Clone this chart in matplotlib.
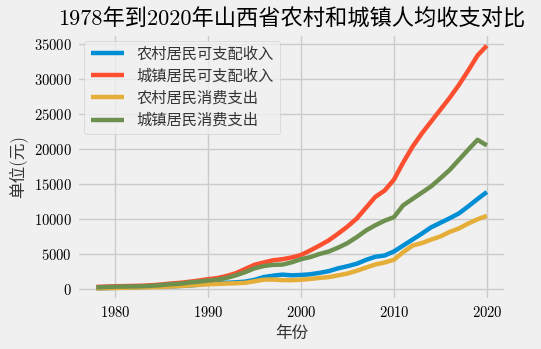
import matplotlib
matplotlib.use("Agg")
import matplotlib.pyplot as plt
import numpy as np

years = np.arange(1978, 2021)

# 农村居民可支配收入
rural_income = [100, 130, 160, 200, 240, 290, 330, 360, 380, 430,
                500, 600, 800, 830, 880, 950, 1050, 1300, 1700, 1900,
                2050, 1950, 2000, 2100, 2300, 2550, 2950, 3250, 3600, 4150,
                4600, 4780, 5350, 6200, 7050, 7900, 8800, 9450, 10100, 10800,
                11800, 12850, 13850]
# 城镇居民可支配收入
urban_income = [300, 340, 390, 410, 440, 470, 540, 640, 780, 880,
                1030, 1200, 1400, 1550, 1850, 2250, 2850, 3450, 3780, 4100,
                4250, 4500, 4850, 5500, 6200, 6950, 7900, 8900, 10050, 11600,
                13150, 14050, 15600, 18050, 20300, 22200, 23900, 25600, 27300, 29150,
                31200, 33350, 34750]
# 农村居民消费支出
rural_spend = [90, 110, 140, 170, 200, 230, 260, 300, 350, 420,
               500, 580, 680, 720, 780, 820, 880, 1100, 1330, 1350,
               1270, 1250, 1330, 1430, 1580, 1700, 1950, 2200, 2600, 3050,
               3500, 3780, 4170, 5250, 6200, 6550, 7050, 7500, 8150, 8650,
               9350, 9950, 10450]
# 城镇居民消费支出
urban_spend = [240, 280, 330, 350, 370, 400, 460, 560, 680, 760,
               930, 1050, 1200, 1330, 1580, 1950, 2400, 2950, 3280, 3450,
               3480, 3800, 4250, 4550, 5000, 5350, 5900, 6550, 7400, 8350,
               9100, 9750, 10250, 11950, 12850, 13750, 14650, 15800, 17000, 18450,
               19900, 21300, 20500]

series = [
    ("农村居民可支配收入", rural_income),
    ("城镇居民可支配收入", urban_income),
    ("农村居民消费支出", rural_spend),
    ("城镇居民消费支出", urban_spend),
]

plt.style.use("fivethirtyeight")
plt.rcParams["font.family"] = ["cmr10", "Noto Sans CJK SC", "DejaVu Sans"]
plt.rcParams["axes.formatter.use_mathtext"] = True

fig = plt.figure(figsize=(5.41, 3.49), dpi=100)
ax = fig.add_axes([0.142, 0.139, 0.794, 0.765])

for label, vals in series:
    ax.plot(years, vals, linewidth=3.2, label=label)

ax.set_title("1978年到2020年山西省农村和城镇人均收支对比", fontsize=16)
ax.set_xlabel("年份", fontsize=12, color="#333333")
ax.set_ylabel("单位(元)", fontsize=12, color="#333333")
ax.tick_params(labelsize=10.5)
ax.set_yticks(np.arange(0, 35001, 5000))
leg = ax.legend(loc="upper left", fontsize=11, handlelength=2.2)
for t in leg.get_texts():
    t.set_color("#333333")

fig.savefig("out.png", dpi=100)
